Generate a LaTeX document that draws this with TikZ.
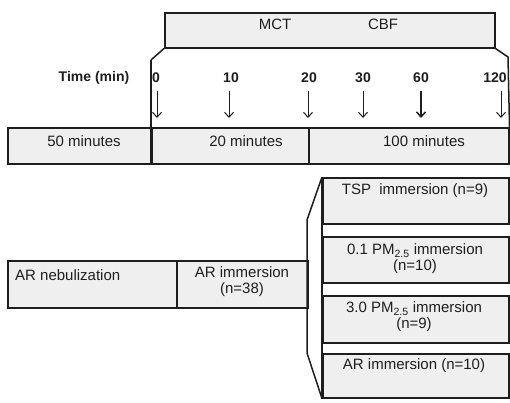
\documentclass[tikz,border=0pt]{standalone}
\usepackage{fontspec}
\setmainfont{Liberation Sans}
\usetikzlibrary{arrows.meta}
\definecolor{boxfill}{HTML}{EFEFEF}
\definecolor{ink}{HTML}{1E1E1E}
\tikzset{
  cell/.style={draw=ink, fill=boxfill, line width=1.5pt, inner sep=0pt, anchor=north west},
  txt/.style={inner sep=0pt, font=\fontsize{15}{17}\selectfont, text=ink, align=center},
  num/.style={inner sep=0pt, font=\bfseries\fontsize{14}{16}\selectfont, text=ink},
  edge/.style={draw=ink, line width=1.5pt},
  tick/.style={draw=ink, line width=1pt, -{Straight Barb[length=5pt,width=9pt]}},
}
\begin{document}
\begin{tikzpicture}[x=1pt,y=-1pt]
\useasboundingbox (0,0) rectangle (510,402);
% top box
\node[cell, minimum width=330pt, minimum height=35pt] (top) at (164,12) {};
\node[txt] (mct) at (275,24) {MCT};
\node[txt] (cbf) at (383,24) {CBF};
% time labels
\node[num] (tl) at (94,78) {Time (min)};
\node[num] (n0) at (156,78) {0};
\node[num] (n10) at (231,78) {10};
\node[num] (n20) at (309,78) {20};
\node[num] (n30) at (363,78) {30};
\node[num] (n60) at (421,78) {60};
\node[num] (n120) at (495,78) {120};
% arrows
\foreach \n/\x in {0/157,10/229,20/308,30/363,60/421,120/501}{
  \coordinate (s\n) at (\x,91);
  \coordinate (e\n) at (\x,118);
}
\foreach \n in {0,10,20,30,120}{ \draw[tick] (s\n) -- (e\n); }
\draw[tick, line width=1.5pt] (s60) -- (e60);
% row of durations
\node[cell, minimum width=144pt, minimum height=36pt] (r50) at (7,127) {};
\node[cell, minimum width=157pt, minimum height=36pt] (r20) at (151,127) {};
\node[cell, minimum width=200pt, minimum height=36pt] (r100) at (308,127) {};
\node[txt] at (84,141) {50 minutes};
\node[txt] at (246,141) {20 minutes};
\node[txt] at (424,141) {100 minutes};
% trapezoid top
\coordinate (tl1) at (151,60);
\coordinate (tr1) at (508,57);
\draw[edge] (top.south west) -- (tl1);
\draw[edge, line width=2pt] (tl1) -- (r20.south west);
\draw[edge] (top.south east) -- (tr1) -- (r100.north east);
% lower
\node[cell, minimum width=169pt, minimum height=47pt] (neb) at (7,260) {};
\node[cell, minimum width=131pt, minimum height=47pt] (arim) at (176,260) {};
\node[txt, anchor=west] at (15,275) {AR nebulization};
\node[txt] at (242,282) {AR immersion\\[-1pt](n=38)};
\node[cell, minimum width=186pt, minimum height=46pt] (tsp) at (322,177) {};
\node[cell, minimum width=186pt, minimum height=46pt] (p01) at (322,236) {};
\node[cell, minimum width=186pt, minimum height=47pt] (p30) at (322,295) {};
\node[cell, minimum width=186pt, minimum height=44pt] (ar10) at (322,353) {};
\node[txt] at (415,191) {TSP\ \ immersion (n=9)};
\node[txt] at (415,259) {0.1 PM\textsubscript{2.5} immersion\\[-1pt](n=10)};
\node[txt] at (414,317) {3.0 PM\textsubscript{2.5} immersion\\[-1pt](n=9)};
\node[txt] at (414,366) {AR immersion (n=10)};
\coordinate (b1) at (307,220);
\coordinate (b2) at (307,353);
\draw[edge] (tsp.north west) -- (b1) -- (b2) -- (ar10.south west);
\draw[edge] (tsp.north west) -- (ar10.south west);
\end{tikzpicture}
\end{document}
